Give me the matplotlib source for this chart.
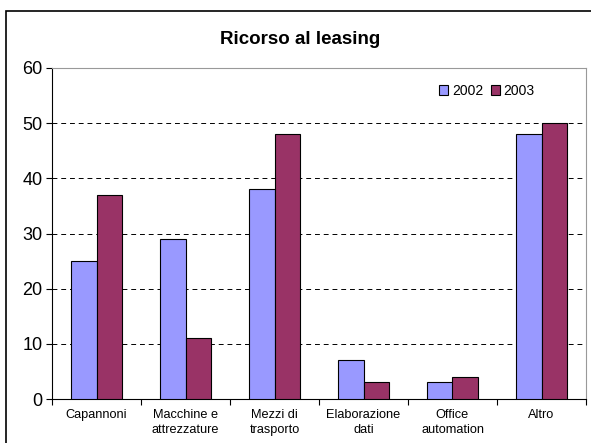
import numpy as np
import matplotlib
matplotlib.use('Agg')
import matplotlib.pyplot as plt
from matplotlib.patches import Rectangle

plt.rcParams['font.family'] = ['Liberation Sans', 'DejaVu Sans']

categories = ['Capannoni', 'Macchine e\nattrezzature', 'Mezzi di\ntrasporto',
              'Elaborazione\ndati', 'Office\nautomation', 'Altro']
series_names = ['2002', '2003']
values_2002 = [25, 29, 38, 7, 3, 48]
values_2003 = [37, 11, 48, 3, 4, 50]
y_ticks = [0, 10, 20, 30, 40, 50, 60]

BLUE = '#9999FF'
RED = '#993366'

fig = plt.figure(figsize=(5.91, 4.43), dpi=100)
ax = fig.add_axes([52/591, 1 - 399/443, (586-52)/591, (399-68)/443])

x = np.arange(len(categories))
w = 0.29
ax.bar(x - w/2, values_2002, w, color=BLUE, edgecolor='black', linewidth=0.8,
       label=series_names[0], zorder=3)
ax.bar(x + w/2, values_2003, w, color=RED, edgecolor='black', linewidth=0.8,
       label=series_names[1], zorder=3)

ax.set_xlim(-0.5, len(categories) - 0.5)
ax.set_ylim(0, 60)
ax.set_yticks(y_ticks)
ax.tick_params(axis='y', labelsize=13, direction='out', length=4, width=0.8, pad=3)
for yv in y_ticks[1:-1]:
    ax.axhline(yv, color='black', lw=0.7, ls=(0, (5, 4)), zorder=1)

# category ticks sit between the groups
ax.set_xticks(np.arange(-0.5, len(categories) + 0.5, 1))
ax.set_xticklabels([])
ax.set_xticks(x, minor=True)
ax.set_xticklabels(categories, minor=True, fontsize=9.2, linespacing=1.35)
ax.tick_params(axis='x', which='major', direction='out', length=4, width=0.8)
ax.tick_params(axis='x', which='minor', length=0, pad=7)

for s in ['top', 'right']:
    ax.spines[s].set_color('#999999')
    ax.spines[s].set_linewidth(0.8)
for s in ['left', 'bottom']:
    ax.spines[s].set_color('black')
    ax.spines[s].set_linewidth(0.8)

ax.legend(loc='center', bbox_to_anchor=((487-52)/534, (399-91)/331), ncol=2,
          frameon=False, fontsize=10, handlelength=0.65, handleheight=0.65,
          handletextpad=0.3, columnspacing=0.5, borderpad=0)

fig.text(300/591, 1 - 40/443, 'Ricorso al leasing', ha='center', va='center',
         fontsize=13.5, fontweight='bold')

fig.patches.append(Rectangle((6/591, -0.05), 1.1, 1 - 11/443 + 0.05,
                             transform=fig.transFigure, fill=False,
                             edgecolor='black', linewidth=1.2))

fig.savefig('out.png', dpi=100, facecolor='white')
